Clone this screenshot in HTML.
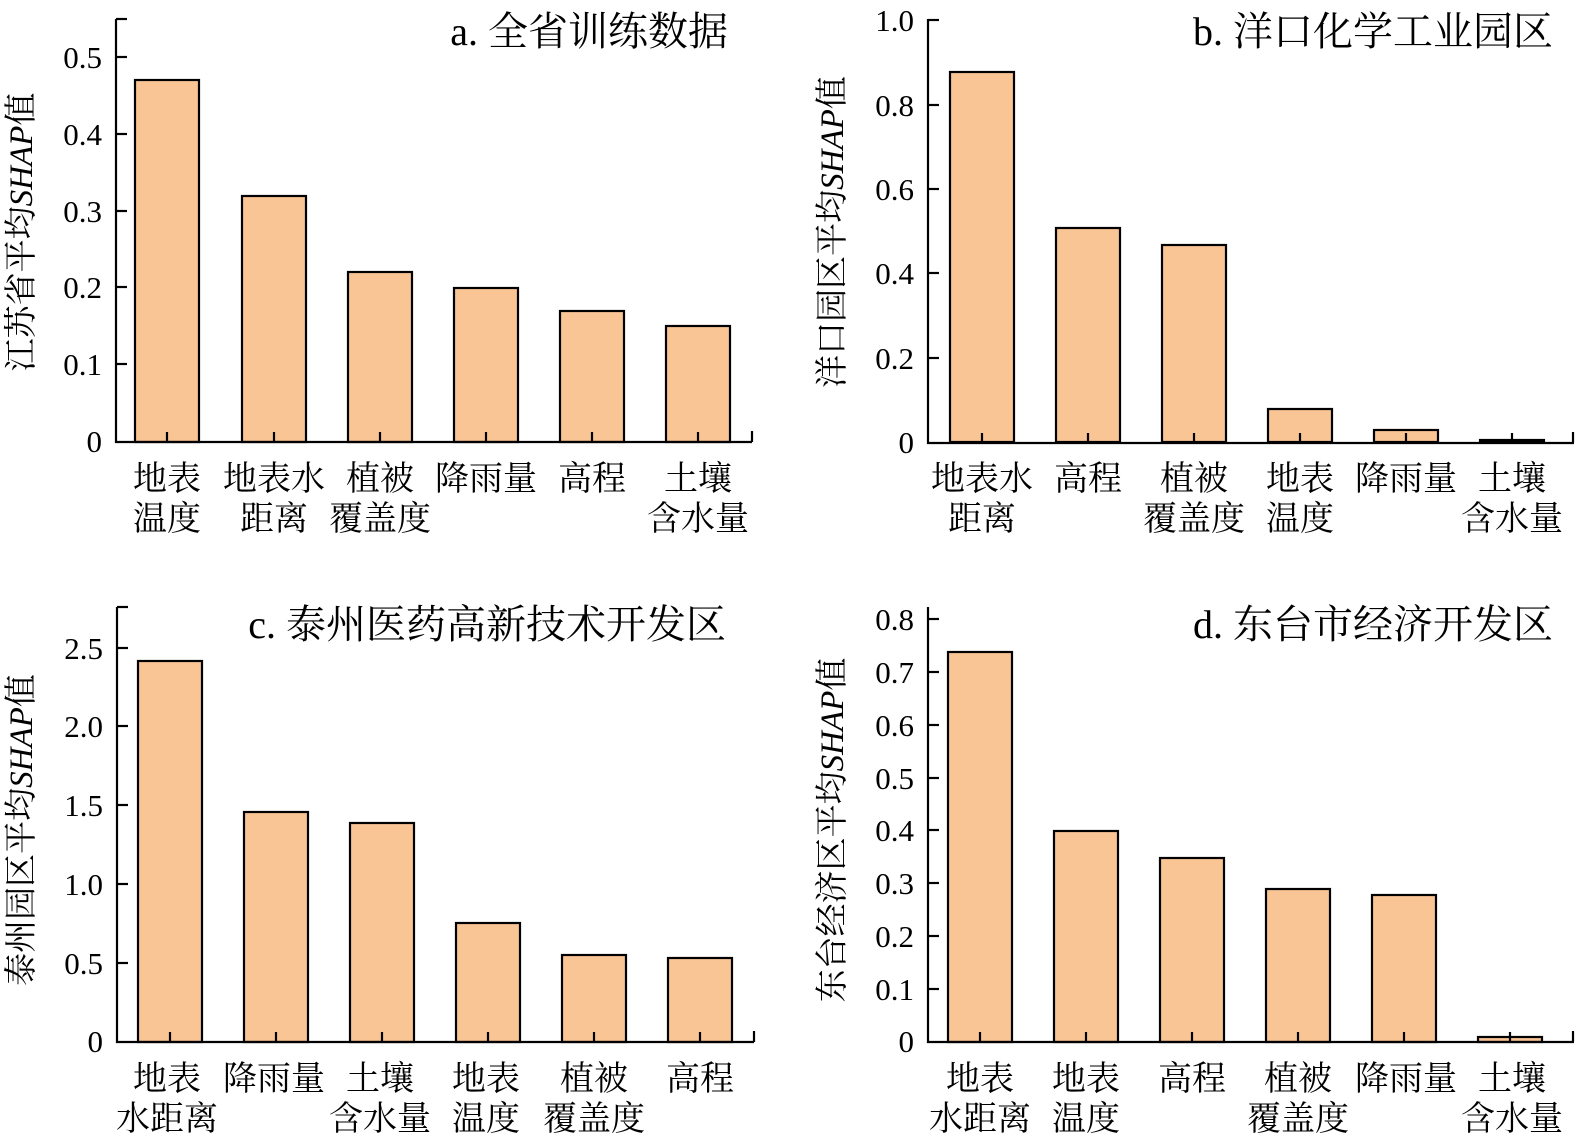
<!DOCTYPE html>
<html><head><meta charset="utf-8"><style>
html,body{margin:0;padding:0;background:#fff;}
svg{display:block;}
text{font-family:"Liberation Serif","Noto Serif CJK SC","Noto Sans CJK SC",serif;fill:#000;}
.t{font-size:31px;text-anchor:end;}
.c{font-size:34px;text-anchor:middle;}
.h{font-size:40px;text-anchor:end;}
.y{font-size:33px;text-anchor:middle;}
rect{fill:#F9C595;stroke:#000;stroke-width:2.2;}
line{stroke:#000;stroke-width:2.2;}
</style></head><body>
<svg width="1575" height="1146" viewBox="0 0 1575 1146">
<g>
<rect x="135" y="80" width="64" height="362"/>
<rect x="242" y="196" width="64" height="246"/>
<rect x="348" y="272" width="64" height="170"/>
<rect x="454" y="288" width="64" height="154"/>
<rect x="560" y="311" width="64" height="131"/>
<rect x="666" y="326" width="64" height="116"/>
<line x1="116" y1="19" x2="116" y2="443"/>
<line x1="115" y1="442" x2="752" y2="442"/>
<line x1="752" y1="442" x2="752" y2="431"/>
<line x1="116" y1="19" x2="127" y2="19"/>
<line x1="116" y1="57" x2="127" y2="57"/><line x1="116" y1="134" x2="127" y2="134"/><line x1="116" y1="211" x2="127" y2="211"/><line x1="116" y1="287" x2="127" y2="287"/><line x1="116" y1="364" x2="127" y2="364"/>
<line x1="167" y1="442" x2="167" y2="432"/><line x1="274" y1="442" x2="274" y2="432"/><line x1="380" y1="442" x2="380" y2="432"/><line x1="486" y1="442" x2="486" y2="432"/><line x1="592" y1="442" x2="592" y2="432"/><line x1="698" y1="442" x2="698" y2="432"/>
<text class="t" x="102" y="452">0</text><text class="t" x="102" y="375">0.1</text><text class="t" x="102" y="298">0.2</text><text class="t" x="102" y="222">0.3</text><text class="t" x="102" y="145">0.4</text><text class="t" x="102" y="68">0.5</text>
<text class="c" x="167" y="490">地表</text><text class="c" x="167" y="530">温度</text>
<text class="c" x="274" y="490">地表水</text><text class="c" x="274" y="530">距离</text>
<text class="c" x="380" y="490">植被</text><text class="c" x="380" y="530">覆盖度</text>
<text class="c" x="486" y="490">降雨量</text>
<text class="c" x="592" y="490">高程</text>
<text class="c" x="698" y="490">土壤</text><text class="c" x="698" y="530">含水量</text>
<text class="h" x="728" y="45">a. 全省训练数据</text>
<text class="y" transform="translate(32,232) rotate(-90)">江苏省平均<tspan font-style="italic">SHAP</tspan>值</text>
</g>
<g>
<rect x="950" y="72" width="64" height="370"/>
<rect x="1056" y="228" width="64" height="214"/>
<rect x="1162" y="245" width="64" height="197"/>
<rect x="1268" y="409" width="64" height="33"/>
<rect x="1374" y="430" width="64" height="12"/>
<rect x="1480" y="440" width="64" height="2"/>
<line x1="928" y1="19" x2="928" y2="444"/>
<line x1="927" y1="443" x2="1574" y2="443"/>
<line x1="1573" y1="443" x2="1573" y2="432"/>
<line x1="928" y1="20" x2="939" y2="20"/><line x1="928" y1="105" x2="939" y2="105"/><line x1="928" y1="189" x2="939" y2="189"/><line x1="928" y1="273" x2="939" y2="273"/><line x1="928" y1="358" x2="939" y2="358"/>
<line x1="982" y1="443" x2="982" y2="433"/><line x1="1088" y1="443" x2="1088" y2="433"/><line x1="1194" y1="443" x2="1194" y2="433"/><line x1="1300" y1="443" x2="1300" y2="433"/><line x1="1406" y1="443" x2="1406" y2="433"/><line x1="1512" y1="443" x2="1512" y2="433"/>
<text class="t" x="914" y="453">0</text><text class="t" x="914" y="369">0.2</text><text class="t" x="914" y="284">0.4</text><text class="t" x="914" y="200">0.6</text><text class="t" x="914" y="116">0.8</text><text class="t" x="914" y="31">1.0</text>
<text class="c" x="982" y="490">地表水</text><text class="c" x="982" y="530">距离</text>
<text class="c" x="1088" y="490">高程</text>
<text class="c" x="1194" y="490">植被</text><text class="c" x="1194" y="530">覆盖度</text>
<text class="c" x="1300" y="490">地表</text><text class="c" x="1300" y="530">温度</text>
<text class="c" x="1406" y="490">降雨量</text>
<text class="c" x="1512" y="490">土壤</text><text class="c" x="1512" y="530">含水量</text>
<text class="h" x="1553" y="45">b. 洋口化学工业园区</text>
<text class="y" transform="translate(843,232) rotate(-90)">洋口园区平均<tspan font-style="italic">SHAP</tspan>值</text>
</g>
<g>
<rect x="138" y="661" width="64" height="381"/>
<rect x="244" y="812" width="64" height="230"/>
<rect x="350" y="823" width="64" height="219"/>
<rect x="456" y="923" width="64" height="119"/>
<rect x="562" y="955" width="64" height="87"/>
<rect x="668" y="958" width="64" height="84"/>
<line x1="117" y1="607" x2="117" y2="1043"/>
<line x1="116" y1="1042" x2="754" y2="1042"/>
<line x1="754" y1="1042" x2="754" y2="1031"/>
<line x1="117" y1="607" x2="128" y2="607"/>
<line x1="117" y1="648" x2="128" y2="648"/><line x1="117" y1="726" x2="128" y2="726"/><line x1="117" y1="805" x2="128" y2="805"/><line x1="117" y1="884" x2="128" y2="884"/><line x1="117" y1="963" x2="128" y2="963"/>
<line x1="170" y1="1042" x2="170" y2="1032"/><line x1="276" y1="1042" x2="276" y2="1032"/><line x1="382" y1="1042" x2="382" y2="1032"/><line x1="488" y1="1042" x2="488" y2="1032"/><line x1="594" y1="1042" x2="594" y2="1032"/><line x1="700" y1="1042" x2="700" y2="1032"/>
<text class="t" x="103" y="1052">0</text><text class="t" x="103" y="974">0.5</text><text class="t" x="103" y="895">1.0</text><text class="t" x="103" y="816">1.5</text><text class="t" x="103" y="737">2.0</text><text class="t" x="103" y="659">2.5</text>
<text class="c" x="167" y="1090">地表</text><text class="c" x="167" y="1130">水距离</text>
<text class="c" x="274" y="1090">降雨量</text>
<text class="c" x="380" y="1090">土壤</text><text class="c" x="380" y="1130">含水量</text>
<text class="c" x="486" y="1090">地表</text><text class="c" x="486" y="1130">温度</text>
<text class="c" x="594" y="1090">植被</text><text class="c" x="594" y="1130">覆盖度</text>
<text class="c" x="700" y="1090">高程</text>
<text class="h" x="726" y="638">c. 泰州医药高新技术开发区</text>
<text class="y" transform="translate(32,830) rotate(-90)">泰州园区平均<tspan font-style="italic">SHAP</tspan>值</text>
</g>
<g>
<rect x="948" y="652" width="64" height="390"/>
<rect x="1054" y="831" width="64" height="211"/>
<rect x="1160" y="858" width="64" height="184"/>
<rect x="1266" y="889" width="64" height="153"/>
<rect x="1372" y="895" width="64" height="147"/>
<rect x="1478" y="1037" width="64" height="5"/>
<line x1="928" y1="607" x2="928" y2="1043"/>
<line x1="927" y1="1042" x2="1574" y2="1042"/>
<line x1="1573" y1="1042" x2="1573" y2="1031"/>
<line x1="928" y1="619" x2="939" y2="619"/><line x1="928" y1="672" x2="939" y2="672"/><line x1="928" y1="725" x2="939" y2="725"/><line x1="928" y1="778" x2="939" y2="778"/><line x1="928" y1="830" x2="939" y2="830"/><line x1="928" y1="883" x2="939" y2="883"/><line x1="928" y1="936" x2="939" y2="936"/><line x1="928" y1="989" x2="939" y2="989"/>
<line x1="980" y1="1042" x2="980" y2="1032"/><line x1="1086" y1="1042" x2="1086" y2="1032"/><line x1="1192" y1="1042" x2="1192" y2="1032"/><line x1="1298" y1="1042" x2="1298" y2="1032"/><line x1="1404" y1="1042" x2="1404" y2="1032"/><line x1="1510" y1="1042" x2="1510" y2="1032"/>
<text class="t" x="914" y="1052">0</text><text class="t" x="914" y="1000">0.1</text><text class="t" x="914" y="947">0.2</text><text class="t" x="914" y="894">0.3</text><text class="t" x="914" y="841">0.4</text><text class="t" x="914" y="789">0.5</text><text class="t" x="914" y="736">0.6</text><text class="t" x="914" y="683">0.7</text><text class="t" x="914" y="630">0.8</text>
<text class="c" x="980" y="1090">地表</text><text class="c" x="980" y="1130">水距离</text>
<text class="c" x="1086" y="1090">地表</text><text class="c" x="1086" y="1130">温度</text>
<text class="c" x="1192" y="1090">高程</text>
<text class="c" x="1298" y="1090">植被</text><text class="c" x="1298" y="1130">覆盖度</text>
<text class="c" x="1406" y="1090">降雨量</text>
<text class="c" x="1512" y="1090">土壤</text><text class="c" x="1512" y="1130">含水量</text>
<text class="h" x="1553" y="638">d. 东台市经济开发区</text>
<text class="y" transform="translate(843,830) rotate(-90)">东台经济区平均<tspan font-style="italic">SHAP</tspan>值</text>
</g>
</svg>
</body></html>
